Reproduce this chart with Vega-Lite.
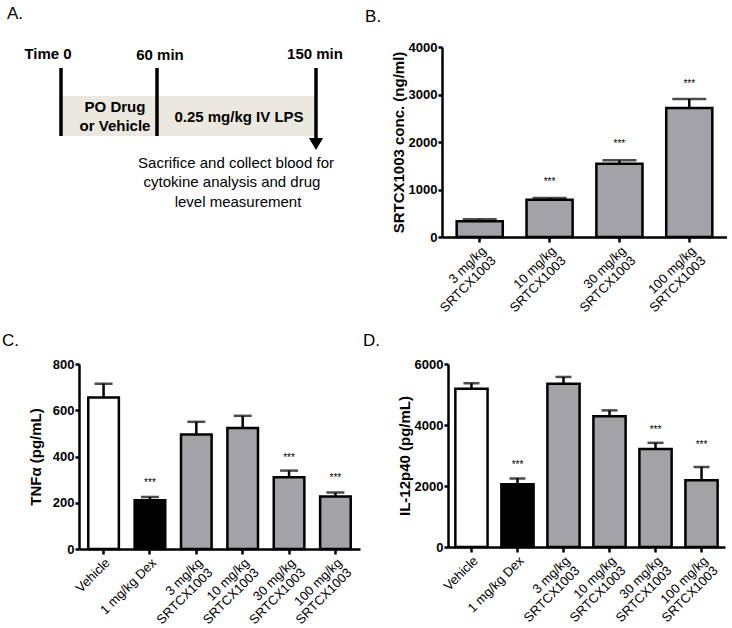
{
  "$schema": "https://vega.github.io/schema/vega-lite/v6.json",
  "padding": {"left": 2, "top": 5, "right": 0, "bottom": 0},
  "config": {
    "font": "Liberation Sans",
    "view": {"stroke": null},
    "title": {"anchor": "start", "fontSize": 17, "fontWeight": "normal", "color": "black", "frame": "bounds", "font": "Liberation Sans"},
    "axis": {"grid": false, "domainColor": "black", "domainWidth": 2.5, "tickColor": "black", "tickWidth": 2.5, "labelColor": "black", "titleColor": "black", "labelFont": "Liberation Sans", "titleFont": "Liberation Sans"},
    "axisY": {"labelFontSize": 13, "labelFontWeight": "bold", "titleFontSize": 15, "titleFontWeight": "bold", "tickSize": 4, "labelPadding": 1, "titlePadding": 2},
    "axisX": {"labelFontSize": 13, "labelAngle": -45, "labelAlign": "right", "labelBaseline": "top", "tickSize": 5, "labelPadding": 2, "labelLineHeight": 14}
  },
  "vconcat": [
    {
      "spacing": 6,
      "hconcat": [
        {
          "title": {"text": "A.", "frame": "group", "dx": -72, "offset": 24},
          "width": 280,
          "height": 190,
          "layer": [
            {
              "data": {"values": [{"x1": -18, "x2": 237, "y1": 49, "y2": 89}]},
              "mark": {"type": "rect", "color": "#ebe8df"},
              "encoding": {
                "x": {"field": "x1", "type": "quantitative", "scale": {"domain": [0, 280], "nice": false, "zero": false}, "axis": null},
                "x2": {"field": "x2"},
                "y": {"field": "y1", "type": "quantitative", "scale": {"domain": [0, 190], "nice": false, "zero": false, "reverse": true}, "axis": null},
                "y2": {"field": "y2"}
              }
            },
            {
              "data": {"values": [{"x": -18, "y1": 21, "y2": 89}, {"x": 78, "y1": 21, "y2": 89}, {"x": 237, "y1": 21, "y2": 96}]},
              "mark": {"type": "rule", "color": "black", "strokeWidth": 3.5},
              "encoding": {
                "x": {"field": "x", "type": "quantitative"},
                "y": {"field": "y1", "type": "quantitative"},
                "y2": {"field": "y2"}
              }
            },
            {
              "data": {"values": [{"x": 237, "y": 97}]},
              "mark": {"type": "point", "shape": "triangle-down", "filled": true, "color": "black", "size": 200, "opacity": 1},
              "encoding": {
                "x": {"field": "x", "type": "quantitative"},
                "y": {"field": "y", "type": "quantitative"}
              }
            },
            {
              "data": {"values": [
                {"x": -31, "y": 12, "t": "Time 0"},
                {"x": 81, "y": 13, "t": "60 min"},
                {"x": 236, "y": 12, "t": "150 min"},
                {"x": 36, "y": 65, "t": "PO Drug"},
                {"x": 36, "y": 84, "t": "or Vehicle"},
                {"x": 160, "y": 75, "t": "0.25 mg/kg IV LPS"}
              ]},
              "mark": {"type": "text", "fontSize": 15, "fontWeight": "bold", "baseline": "alphabetic", "align": "center", "color": "black"},
              "encoding": {
                "x": {"field": "x", "type": "quantitative"},
                "y": {"field": "y", "type": "quantitative"},
                "text": {"field": "t"}
              }
            },
            {
              "data": {"values": [
                {"x": 157, "y": 121, "t": "Sacrifice and collect blood for"},
                {"x": 153, "y": 140, "t": "cytokine analysis and drug"},
                {"x": 159, "y": 160, "t": "level measurement"}
              ]},
              "mark": {"type": "text", "fontSize": 15, "baseline": "alphabetic", "align": "center", "color": "black"},
              "encoding": {
                "x": {"field": "x", "type": "quantitative"},
                "y": {"field": "y", "type": "quantitative"},
                "text": {"field": "t"}
              }
            }
          ]
        },
        {
          "title": {"text": "B.", "dx": -26, "offset": 15},
          "width": 285,
          "height": 190,
          "data": {"values": [
            {"g": "3 mg/kg|SRTCX1003", "k": "drug", "v": 330, "e": 372, "s": null},
            {"g": "10 mg/kg|SRTCX1003", "k": "drug", "v": 785, "e": 820, "s": 1190},
            {"g": "30 mg/kg|SRTCX1003", "k": "drug", "v": 1540, "e": 1615, "s": 2010},
            {"g": "100 mg/kg|SRTCX1003", "k": "drug", "v": 2715, "e": 2905, "s": 3270}
          ]},
          "encoding": {
            "x": {"field": "g", "type": "nominal", "sort": null, "scale": {"paddingInner": 0.34, "paddingOuter": 0.21},
              "axis": {"title": null, "labelExpr": "split(datum.label, '|')"}}
          },
          "layer": [
            {
              "mark": {"type": "bar", "stroke": "black", "strokeWidth": 2.5},
              "encoding": {
                "y": {"field": "v", "type": "quantitative", "title": "SRTCX1003 conc. (ng/ml)", "scale": {"domain": [0, 4000]}, "axis": {"values": [0, 1000, 2000, 3000, 4000], "format": "d"}},
                "fill": {"field": "k", "type": "nominal", "scale": {"domain": ["vehicle", "dex", "drug"], "range": ["#ffffff", "#000000", "#a3a3a7"]}, "legend": null}
              }
            },
            {
              "mark": {"type": "rule", "color": "black", "strokeWidth": 2.5},
              "encoding": {"y": {"field": "v", "type": "quantitative", "title": "SRTCX1003 conc. (ng/ml)"}, "y2": {"field": "e"}}
            },
            {
              "mark": {"type": "tick", "color": "black", "thickness": 2.5, "size": 34, "orient": "horizontal"},
              "encoding": {"y": {"field": "e", "type": "quantitative", "title": "SRTCX1003 conc. (ng/ml)"}}
            },
            {
              "transform": [{"filter": "datum.s != null"}],
              "mark": {"type": "text", "text": "***", "fontSize": 10, "baseline": "middle", "dy": 2, "color": "black"},
              "encoding": {"y": {"field": "s", "type": "quantitative", "title": "SRTCX1003 conc. (ng/ml)"}}
            }
          ]
        }
      ]
    },
    {
      "spacing": 3,
      "hconcat": [
        {
          "title": {"text": "C.", "dx": -26, "offset": 8},
          "width": 281,
          "height": 185,
          "data": {"values": [
            {"g": "Vehicle", "k": "vehicle", "v": 655, "e": 715, "s": null},
            {"g": "1 mg/kg Dex", "k": "dex", "v": 211, "e": 225, "s": 294},
            {"g": "3 mg/kg|SRTCX1003", "k": "drug", "v": 495, "e": 550, "s": null},
            {"g": "10 mg/kg|SRTCX1003", "k": "drug", "v": 523, "e": 576, "s": null},
            {"g": "30 mg/kg|SRTCX1003", "k": "drug", "v": 310, "e": 339, "s": 404},
            {"g": "100 mg/kg|SRTCX1003", "k": "drug", "v": 227, "e": 244, "s": 315}
          ]},
          "encoding": {
            "x": {"field": "g", "type": "nominal", "sort": null, "scale": {"paddingInner": 0.34, "paddingOuter": 0.2},
              "axis": {"title": null, "labelExpr": "split(datum.label, '|')"}}
          },
          "layer": [
            {
              "mark": {"type": "bar", "stroke": "black", "strokeWidth": 2.5},
              "encoding": {
                "y": {"field": "v", "type": "quantitative", "title": "TNFα (pg/mL)", "scale": {"domain": [0, 800]}, "axis": {"values": [0, 200, 400, 600, 800], "format": "d", "minExtent": 34}},
                "fill": {"field": "k", "type": "nominal", "scale": {"domain": ["vehicle", "dex", "drug"], "range": ["#ffffff", "#000000", "#a3a3a7"]}, "legend": null}
              }
            },
            {
              "mark": {"type": "rule", "color": "black", "strokeWidth": 2.5},
              "encoding": {"y": {"field": "v", "type": "quantitative", "title": "TNFα (pg/mL)"}, "y2": {"field": "e"}}
            },
            {
              "mark": {"type": "tick", "color": "black", "thickness": 2.5, "size": 18, "orient": "horizontal"},
              "encoding": {"y": {"field": "e", "type": "quantitative", "title": "TNFα (pg/mL)"}}
            },
            {
              "transform": [{"filter": "datum.s != null"}],
              "mark": {"type": "text", "text": "***", "fontSize": 10, "baseline": "middle", "dy": 2, "color": "black"},
              "encoding": {"y": {"field": "s", "type": "quantitative", "title": "TNFα (pg/mL)"}}
            }
          ]
        },
        {
          "title": {"text": "D.", "dx": -34, "offset": 8},
          "width": 277,
          "height": 183,
          "data": {"values": [
            {"g": "Vehicle", "k": "vehicle", "v": 5185, "e": 5370, "s": null},
            {"g": "1 mg/kg Dex", "k": "dex", "v": 2055, "e": 2250, "s": 2740},
            {"g": "3 mg/kg|SRTCX1003", "k": "drug", "v": 5350, "e": 5575, "s": null},
            {"g": "10 mg/kg|SRTCX1003", "k": "drug", "v": 4290, "e": 4480, "s": null},
            {"g": "30 mg/kg|SRTCX1003", "k": "drug", "v": 3210, "e": 3415, "s": 3900},
            {"g": "100 mg/kg|SRTCX1003", "k": "drug", "v": 2185, "e": 2620, "s": 3425}
          ]},
          "encoding": {
            "x": {"field": "g", "type": "nominal", "sort": null, "scale": {"paddingInner": 0.3, "paddingOuter": 0.16},
              "axis": {"title": null, "labelExpr": "split(datum.label, '|')"}}
          },
          "layer": [
            {
              "mark": {"type": "bar", "stroke": "black", "strokeWidth": 2.5},
              "encoding": {
                "y": {"field": "v", "type": "quantitative", "title": "IL-12p40 (pg/mL)", "scale": {"domain": [0, 6000]}, "axis": {"values": [0, 2000, 4000, 6000], "format": "d"}},
                "fill": {"field": "k", "type": "nominal", "scale": {"domain": ["vehicle", "dex", "drug"], "range": ["#ffffff", "#000000", "#a3a3a7"]}, "legend": null}
              }
            },
            {
              "mark": {"type": "rule", "color": "black", "strokeWidth": 2.5},
              "encoding": {"y": {"field": "v", "type": "quantitative", "title": "IL-12p40 (pg/mL)"}, "y2": {"field": "e"}}
            },
            {
              "mark": {"type": "tick", "color": "black", "thickness": 2.5, "size": 16, "orient": "horizontal"},
              "encoding": {"y": {"field": "e", "type": "quantitative", "title": "IL-12p40 (pg/mL)"}}
            },
            {
              "transform": [{"filter": "datum.s != null"}],
              "mark": {"type": "text", "text": "***", "fontSize": 10, "baseline": "middle", "dy": 2, "color": "black"},
              "encoding": {"y": {"field": "s", "type": "quantitative", "title": "IL-12p40 (pg/mL)"}}
            }
          ]
        }
      ]
    }
  ],
  "spacing": 17
}
